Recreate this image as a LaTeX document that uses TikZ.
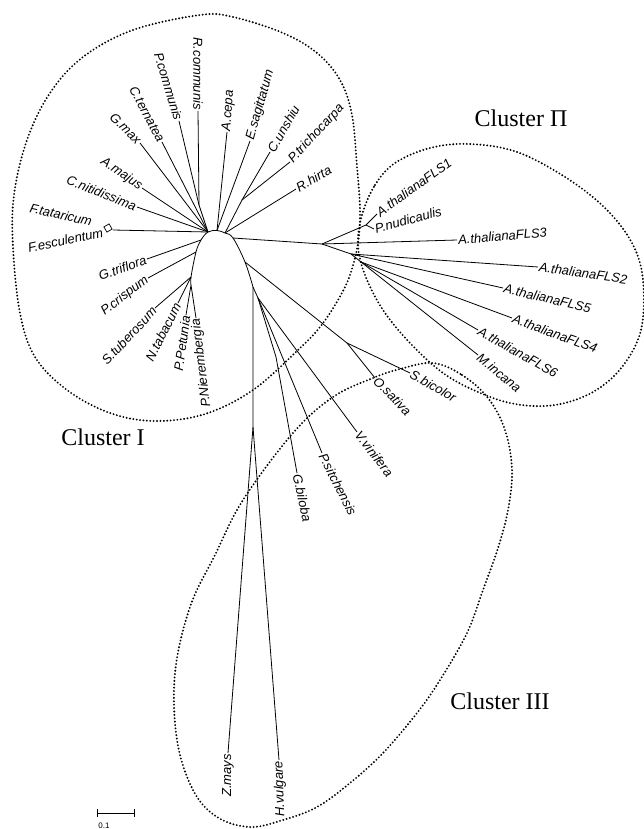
\documentclass[tikz,border=0pt]{standalone}
\usepackage{fontspec}
\setmainfont{Liberation Serif}
\newfontfamily\labfont{Liberation Sans}
\begin{document}
\begin{tikzpicture}[x=1pt,y=-1pt,
  br/.style={line width=0.8pt, line join=round},
  leafL/.style={font=\labfont\itshape\fontsize{13}{14}\selectfont, inner sep=1pt, anchor=east},
  leafR/.style={font=\labfont\itshape\fontsize{13}{14}\selectfont, inner sep=1pt, anchor=west},
  clus/.style={line width=2.1pt, dash pattern=on 0pt off 3.4pt, line cap=round},
  clab/.style={font=\fontsize{24}{26}\selectfont, inner sep=0pt}]
\useasboundingbox (0,0) rectangle (644,829);

% ---- cluster outlines
\draw[clus] plot[smooth cycle, tension=0.6] coordinates {(200,15) (233,17) (283,33) (317,53) (340,80) (352,115) (357,167) (360,210) (358,243) (350,275) (338,300) (320,327) (298,350) (253,390) (205,414) (155,421) (110,413) (67,390) (35,357) (20,313) (13,247) (14,195) (27,140) (50,93) (83,57) (133,30)};
\draw[clus] plot[smooth cycle, tension=0.6] coordinates {(362,215) (375,185) (395,163) (430,148) (470,144) (517,152) (565,177) (605,208) (632,243) (643,280) (641,330) (622,367) (593,392) (555,405) (515,404) (478,392) (443,373) (410,343) (383,310) (365,275) (358,245)};
\draw[clus] plot[smooth cycle, tension=0.6] coordinates {(433,363) (462,375) (488,398) (505,430) (512,470) (508,510) (498,548) (483,590) (467,633) (440,680) (417,713) (383,753) (350,783) (317,807) (283,820) (250,827) (217,817) (193,790) (177,740) (175,673) (190,607) (215,555) (243,500) (293,433) (333,397) (373,378) (400,369)};

\node[clab] (c1) at (103,437) {Cluster I};
\node[clab] (c2) at (521,118) {Cluster Π};
\node[clab] (c3) at (500,701) {Cluster III};

% ---- internal points
\coordinate (hL3) at (191,277);
\coordinate (hL2) at (196,252);
\coordinate (hL1) at (201,240);
\coordinate (hT1) at (208,232);
\coordinate (hT2) at (217,230.5);
\coordinate (hT3) at (225,233);
\coordinate (hR1) at (233,238);
\coordinate (hR2) at (245,262);
\coordinate (h3) at (253,287);
\coordinate (j1) at (199,205);
\coordinate (j2) at (242,200);
\coordinate (j3) at (191,285);
\coordinate (cII) at (322,244);
\coordinate (p1) at (366,225);
\coordinate (n2) at (351,254);
\coordinate (n3) at (361,262);
\coordinate (jS) at (347,343);
\coordinate (v) at (253,427);
\coordinate (g) at (258,298);
\coordinate (gb) at (276,357);

% ---- tips
\coordinate (tRcom) at (198,111);
\coordinate (tPcom) at (179,121);
\coordinate (tCter) at (162,142);
\coordinate (tGmax) at (140,143);
\coordinate (tAmaj) at (142,188);
\coordinate (tCnit) at (137,207);
\coordinate (tFesc) at (113,230);
\coordinate (tFtat) at (93,222);
\coordinate (tGtri) at (147,259);
\coordinate (tPcri) at (148,278);
\coordinate (tStub) at (155,308);
\coordinate (tNtab) at (178,303);
\coordinate (tPpet) at (186,315);
\coordinate (tPnie) at (196,318);
\coordinate (tAcep) at (227,132);
\coordinate (tEsag) at (250,141);
\coordinate (tCuns) at (270,152);
\coordinate (tPtri) at (290,162);
\coordinate (tRhir) at (296,189);
\coordinate (tFLS1) at (377,214);
\coordinate (tPnud) at (374,229);
\coordinate (tFLS3) at (457,240);
\coordinate (tFLS2) at (538,267);
\coordinate (tFLS5) at (503,288);
\coordinate (tFLS4) at (512,318);
\coordinate (tFLS6) at (478,330);
\coordinate (tMinc) at (478,355);
\coordinate (tOsat) at (375,378);
\coordinate (tSbic) at (410,373);
\coordinate (tVvin) at (357,432);
\coordinate (tPsit) at (322,453);
\coordinate (tGbil) at (297,473);
\coordinate (tZmay) at (228,753);
\coordinate (tHvul) at (279,760);

% ---- hub
\draw[br] plot[smooth, tension=0.6] coordinates {(j3) (hL3) (hL2) (hL1) (hT1) (hT2) (hT3) (hR1) (hR2) (h3)};

% ---- branches
\draw[br] (tRcom) -- (j1) -- (hT1);
\draw[br] (tPcom) -- (j1);
\draw[br] (tCter) -- (hT1);
\draw[br] (tGmax) -- (hT1);
\draw[br] (tAmaj) -- (hT1);
\draw[br] (tCnit) -- (hT1);
\draw[br] (tFesc) -- (hT1);
\draw[br] (tGtri) -- (hL1);
\draw[br] (tPcri) -- (hL2);
\draw[br] (tStub) -- (hL3);
\draw[br] (tNtab) -- (hL3);
\draw[br] (tPpet) -- (j3) -- (tPnie);
\draw[br] (tAcep) -- (hT2);
\draw[br] (tEsag) -- (hT2);
\draw[br] (tPtri) -- (j2) -- (hT3);
\draw[br] (tCuns) -- (j2);
\draw[br] (tRhir) -- (hT3);
\draw[br] (hR1) -- (cII);
\draw[br] (cII) -- (p1) -- (tFLS1);
\draw[br] (p1) -- (tPnud);
\draw[br] (cII) -- (tFLS3);
\draw[br] (cII) -- (n2) -- (tFLS2);
\draw[br] (n2) -- (tFLS5);
\draw[br] (n2) -- (n3) -- (tFLS4);
\draw[br] (n3) -- (tFLS6);
\draw[br] (n3) -- (tMinc);
\draw[br] (hR2) -- (jS) -- (tSbic);
\draw[br] (jS) -- (tOsat);
\draw[br] (h3) -- (v) -- (tZmay);
\draw[br] (v) -- (tHvul);
\draw[br] (h3) -- (g) -- (tVvin);
\draw[br] (g) -- (tPsit);
\draw[br] (g) -- (gb) -- (tGbil);

% F.esculentum marker
\draw[line width=0.7pt, rotate around={30:(108,228)}] (105,225) rectangle (111,231);

% ---- labels
\node[leafL, rotate=-90] (lRcom) at (tRcom) {R.communis};
\node[leafL, rotate=-73] (lPcom) at (tPcom) {P.communis};
\node[leafL, rotate=-62] (lCter) at (tCter) {C.ternatea};
\node[leafL, rotate=-45] (lGmax) at (tGmax) {G.max};
\node[leafL, rotate=-34] (lAmaj) at (tAmaj) {A.majus};
\node[leafL, rotate=-21.5] (lCnit) at (tCnit) {C.nitidissima};
\node[leafL, rotate=-13] (lFtat) at (tFtat) {F.tataricum};
\node[leafL, rotate=12] (lFesc) at (104,232) {F.esculentum};
\node[leafL, rotate=20] (lGtri) at (tGtri) {G.triflora};
\node[leafL, rotate=38] (lPcri) at (tPcri) {P.crispum};
\node[leafL, rotate=47] (lStub) at (tStub) {S.tuberosum};
\node[leafL, rotate=63] (lNtab) at (tNtab) {N.tabacum};
\node[leafL, rotate=82] (lPpet) at (tPpet) {P.Petunia};
\node[leafL, rotate=97] (lPnie) at (tPnie) {P.Nierembergia};
\node[leafR, rotate=86] (lAcep) at (tAcep) {A.cepa};
\node[leafR, rotate=74] (lEsag) at (tEsag) {E.sagittatum};
\node[leafR, rotate=60] (lCuns) at (tCuns) {C.unshiu};
\node[leafR, rotate=47] (lPtri) at (tPtri) {P.trichocarpa};
\node[leafR, rotate=30] (lRhir) at (tRhir) {R.hirta};
\node[leafR, rotate=36] (lFLS1) at (tFLS1) {A.thalianaFLS1};
\node[leafR, rotate=15] (lPnud) at (tPnud) {P.nudicaulis};
\node[leafR, rotate=5] (lFLS3) at (tFLS3) {A.thalianaFLS3};
\node[leafR, rotate=-8] (lFLS2) at (tFLS2) {A.thalianaFLS2};
\node[leafR, rotate=-13] (lFLS5) at (tFLS5) {A.thalianaFLS5};
\node[leafR, rotate=-20] (lFLS4) at (tFLS4) {A.thalianaFLS4};
\node[leafR, rotate=-29] (lFLS6) at (tFLS6) {A.thalianaFLS6};
\node[leafR, rotate=-40] (lMinc) at (tMinc) {M.incana};
\node[leafR, rotate=-29] (lSbic) at (tSbic) {S.bicolor};
\node[leafR, rotate=-46] (lOsat) at (tOsat) {O.sativa};
\node[leafR, rotate=-52] (lVvin) at (tVvin) {V.vinifera};
\node[leafR, rotate=-63] (lPsit) at (tPsit) {P.sitchensis};
\node[leafR, rotate=-78] (lGbil) at (tGbil) {G.biloba};
\node[leafL, rotate=90] (lZmay) at (tZmay) {Z.mays};
\node[leafL, rotate=92] (lHvul) at (tHvul) {H.vulgare};

% ---- scale bar
\coordinate (sb1) at (97,813);
\coordinate (sb2) at (134,813);
\draw[line width=0.9pt] (sb1) -- (sb2);
\draw[line width=0.7pt] ([yshift=4pt]sb1) -- ([yshift=-4pt]sb1);
\draw[line width=0.7pt] ([yshift=4pt]sb2) -- ([yshift=-4pt]sb2);
\node[font=\labfont\fontsize{8}{9}\selectfont, inner sep=0pt] (sbl) at (104,826) {0.1};
\end{tikzpicture}
\end{document}
